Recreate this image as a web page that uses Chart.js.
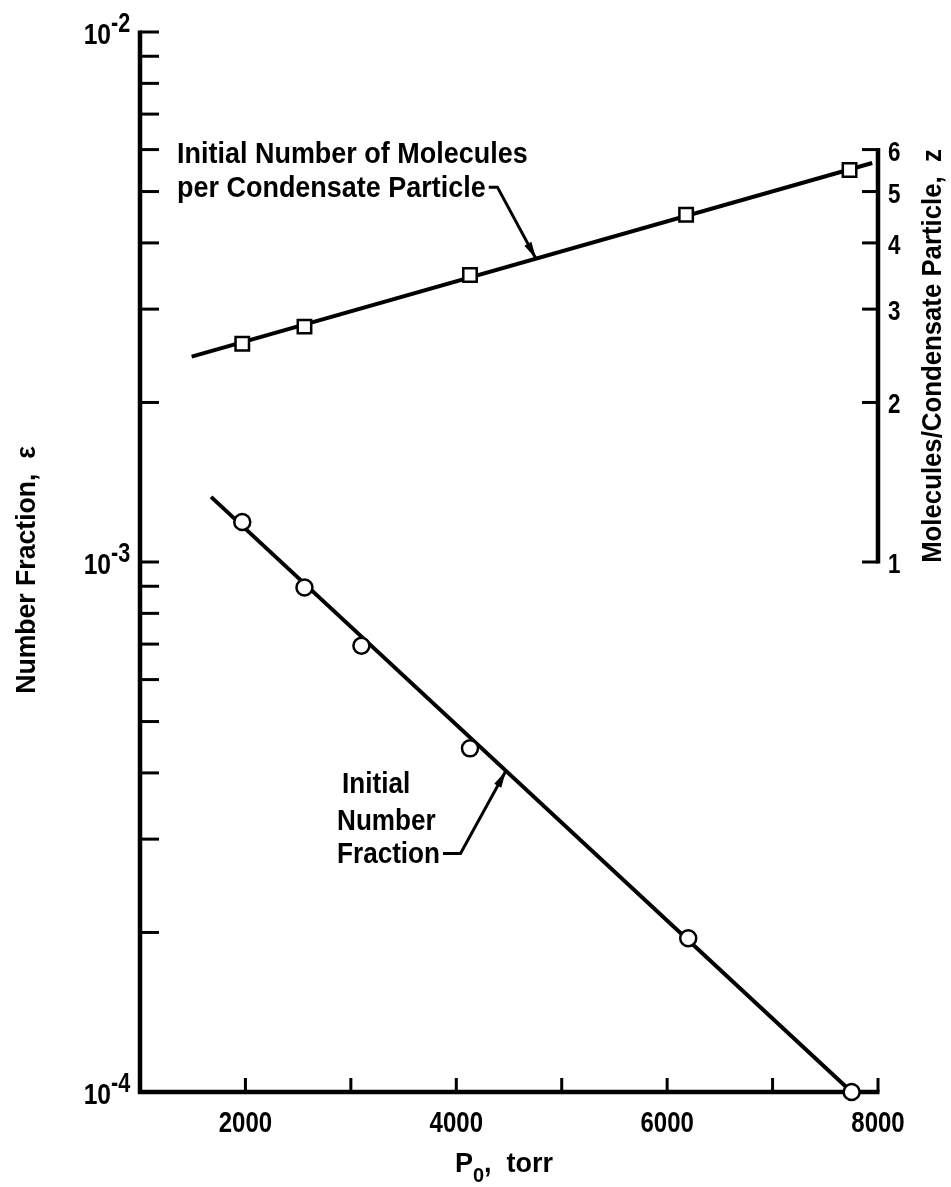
<!DOCTYPE html>
<html><head><meta charset="utf-8">
<script src="https://cdn.jsdelivr.net/npm/chart.js@4.4.1/dist/chart.umd.min.js"></script>
<style>html,body{margin:0;padding:0;background:#fff;}#wrap{width:951px;height:1187px;}</style>
</head><body><div id="wrap"><canvas id="c" width="951" height="1187"></canvas></div>
<script>
// ---- data ----
const circlePressure = [1970, 2560, 3100, 4130, 6200, 7750];          // P0, torr
const numberFraction = [1.19e-3, 8.95e-4, 6.95e-4, 4.45e-4, 1.95e-4, 1.0e-4];
const squarePressure = [1970, 2560, 4130, 6180, 7730];
const moleculesPerParticle = [2.58, 2.78, 3.48, 4.52, 5.49];           // z
const fractionFitPressure = [1674, 7750];
const fractionFitValue = [1.327e-3, 1.0e-4];
const moleculesFitPressure = [1490, 7945];
const moleculesFitValue = [2.44, 5.66];
const xTickValues = [2000, 3000, 4000, 5000, 6000, 7000, 8000];
const xTickLabels = ['2000', '', '4000', '', '6000', '', '8000'];
const leftMajorValues = [1e-4, 1e-3, 1e-2];
const leftMajorExponents = ['-4', '-3', '-2'];
const leftMinorValues = [2e-4,3e-4,4e-4,5e-4,6e-4,7e-4,8e-4,9e-4,2e-3,3e-3,4e-3,5e-3,6e-3,7e-3,8e-3,9e-3];
const rightTickValues = [1, 2, 3, 4, 5, 6];
const rightTickLabels = ['1', '2', '3', '4', '5', '6'];

const FAM = "'Liberation Sans', Arial, sans-serif";

// draws real text, optionally narrowed horizontally (along the text direction)
function txt(ctx, s, x, y, size, sx, align, rot, baseline) {
  ctx.save();
  ctx.font = 'bold ' + size + 'px ' + FAM;
  ctx.translate(x, y);
  if (rot) ctx.rotate(rot);
  ctx.scale(sx, 1);
  ctx.textAlign = align || 'left';
  ctx.textBaseline = baseline || 'alphabetic';
  ctx.fillText(s, 0, 0);
  const w = ctx.measureText(s).width * sx;
  ctx.restore();
  return w;
}
function tw(ctx, s, size, sx) {
  ctx.save(); ctx.font = 'bold ' + size + 'px ' + FAM; const w = ctx.measureText(s).width * sx; ctx.restore(); return w;
}

function logInterp(xs, ys, xv) {
  const t = (xv - xs[0]) / (xs[1] - xs[0]);
  return Math.pow(10, Math.log10(ys[0]) + t * (Math.log10(ys[1]) - Math.log10(ys[0])));
}

function arrow(ctx, x0, y0, x1, y1) {
  const ang = Math.atan2(y1 - y0, x1 - x0), L = 17, W = 4;
  ctx.beginPath();
  ctx.moveTo(x1, y1);
  ctx.lineTo(x1 - L * Math.cos(ang) + W * Math.sin(ang), y1 - L * Math.sin(ang) - W * Math.cos(ang));
  ctx.lineTo(x1 - L * Math.cos(ang) - W * Math.sin(ang), y1 - L * Math.sin(ang) + W * Math.cos(ang));
  ctx.closePath(); ctx.fill();
}

const axesPlugin = {
  id: 'axes',
  beforeDatasetsDraw(chart) {
    const { ctx, chartArea: a, scales: { x, y, y2 } } = chart;
    ctx.save();
    ctx.strokeStyle = '#000'; ctx.fillStyle = '#000';
    // left axis
    ctx.lineWidth = 4.5;
    ctx.beginPath(); ctx.moveTo(a.left, y.getPixelForValue(1e-2) - 1.5); ctx.lineTo(a.left, a.bottom + 2); ctx.stroke();
    ctx.lineWidth = 3;
    [...leftMajorValues, ...leftMinorValues].forEach(v => {
      const py = y.getPixelForValue(v);
      ctx.beginPath(); ctx.moveTo(a.left, py); ctx.lineTo(a.left + 19, py); ctx.stroke();
    });
    // bottom axis
    const xEnd = x.getPixelForValue(8000);
    ctx.lineWidth = 4.5;
    ctx.beginPath(); ctx.moveTo(a.left - 2, a.bottom); ctx.lineTo(xEnd + 1.5, a.bottom); ctx.stroke();
    ctx.lineWidth = 3;
    xTickValues.forEach(v => {
      const px = x.getPixelForValue(v);
      ctx.beginPath(); ctx.moveTo(px, a.bottom); ctx.lineTo(px, a.bottom - 14); ctx.stroke();
    });
    // right axis bracket (z from 1 to 6)
    ctx.lineWidth = 4.5;
    ctx.beginPath(); ctx.moveTo(xEnd, y2.getPixelForValue(6) - 1.5); ctx.lineTo(xEnd, y2.getPixelForValue(1) + 1.5); ctx.stroke();
    ctx.lineWidth = 3;
    rightTickValues.forEach(v => {
      const py = y2.getPixelForValue(v);
      ctx.beginPath(); ctx.moveTo(xEnd, py); ctx.lineTo(xEnd - 16, py); ctx.stroke();
    });
    ctx.restore();
  },
  afterDraw(chart) {
    const { ctx, chartArea: a, scales: { x, y, y2 } } = chart;
    ctx.save();
    ctx.fillStyle = '#000'; ctx.strokeStyle = '#000';
    // x tick labels
    xTickValues.forEach((v, i) => {
      if (xTickLabels[i]) txt(ctx, xTickLabels[i], x.getPixelForValue(v), a.bottom + 40, 30, 0.8, 'center');
    });
    // left tick labels 10^n
    leftMajorValues.forEach((v, i) => {
      const py = y.getPixelForValue(v);
      txt(ctx, '10', 111, py + 12, 30, 0.82, 'right');
      txt(ctx, leftMajorExponents[i], 111, py - 0.5, 27, 0.8, 'left');
    });
    // right tick labels
    rightTickValues.forEach((v, i) => {
      txt(ctx, rightTickLabels[i], 888, y2.getPixelForValue(v) + 11, 28, 0.8, 'left');
    });
    // axis titles (rotated, reading upward)
    txt(ctx, 'Number Fraction,  \u03b5', 27, 570, 28, 0.95, 'center', -Math.PI / 2, 'middle');
    txt(ctx, 'Molecules/Condensate Particle,  z', 933, 356, 28, 0.92, 'center', -Math.PI / 2, 'middle');
    // x title P0, torr
    const wP = tw(ctx, 'P', 27, 1), w0 = tw(ctx, '0', 20, 1), wC = tw(ctx, ',', 27, 1), wT = tw(ctx, '  torr', 27, 1);
    let tx = 504 - (wP + w0 + wC + wT) / 2; const by = 1172;
    tx += txt(ctx, 'P', tx, by, 27, 1);
    tx += txt(ctx, '0', tx, by + 10, 20, 1);
    tx += txt(ctx, ',', tx, by, 27, 1);
    txt(ctx, '  torr', tx, by, 27, 1);

    // annotation: molecules per particle
    const ux = x.getPixelForValue(1351);
    txt(ctx, 'Initial Number of Molecules', ux, y.getPixelForValue(5.66e-3), 29, 0.93);
    const l2y = y.getPixelForValue(4.88e-3);
    const l2w = txt(ctx, 'per Condensate Particle', ux, l2y, 29, 0.93);
    const tipX1 = x.getPixelForValue(4756);
    const tipY1 = y2.getPixelForValue(logInterp(moleculesFitPressure, moleculesFitValue, 4756));
    ctx.lineWidth = 3;
    const s1x = ux + l2w + 3, s1y = l2y - 10, k1x = x.getPixelForValue(4390);
    ctx.beginPath(); ctx.moveTo(s1x, s1y); ctx.lineTo(k1x, s1y); ctx.lineTo(tipX1, tipY1); ctx.stroke();
    arrow(ctx, k1x, s1y, tipX1, tipY1);

    // annotation: initial number fraction
    const lx = x.getPixelForValue(2869);
    txt(ctx, 'Initial', lx + 5, y.getPixelForValue(3.66e-4), 29, 0.9);
    txt(ctx, 'Number', lx, y.getPixelForValue(3.12e-4), 29, 0.9);
    const l3y = y.getPixelForValue(2.70e-4);
    const l3w = txt(ctx, 'Fraction', lx, l3y, 29, 0.9);
    const tipX2 = x.getPixelForValue(4471);
    const tipY2 = y.getPixelForValue(logInterp(fractionFitPressure, fractionFitValue, 4471));
    const s2x = lx + l3w + 3, s2y = l3y - 10, k2x = x.getPixelForValue(4040);
    ctx.beginPath(); ctx.moveTo(s2x, s2y); ctx.lineTo(k2x, s2y); ctx.lineTo(tipX2, tipY2); ctx.stroke();
    arrow(ctx, k2x, s2y, tipX2, tipY2);
    ctx.restore();
  }
};

const pts = (xs, ys) => xs.map((v, i) => ({ x: v, y: ys[i] }));

new Chart(document.getElementById('c'), {
  type: 'line',
  data: {
    datasets: [
      { data: pts(fractionFitPressure, fractionFitValue), yAxisID: 'y', borderColor: '#000', borderWidth: 4, pointRadius: 0, clip: false, order: 3 },
      { data: pts(moleculesFitPressure, moleculesFitValue), yAxisID: 'y2', borderColor: '#000', borderWidth: 4, pointRadius: 0, clip: false, order: 3 },
      { data: pts(circlePressure, numberFraction), yAxisID: 'y', showLine: false, pointStyle: 'circle', pointRadius: 8,
        pointBackgroundColor: '#fff', pointBorderColor: '#000', pointBorderWidth: 2.5, clip: false, order: 1 },
      { data: pts(squarePressure, moleculesPerParticle), yAxisID: 'y2', showLine: false, pointStyle: 'rect', pointRadius: 9.5,
        pointBackgroundColor: '#fff', pointBorderColor: '#000', pointBorderWidth: 2.5, clip: false, order: 1 }
    ]
  },
  options: {
    responsive: false, animation: false, events: [],
    layout: { padding: { top: 32, left: 0, right: 0, bottom: 0 } },
    plugins: { legend: { display: false }, tooltip: { enabled: false } },
    scales: {
      x: { type: 'linear', min: 1000, max: 8000, grid: { display: false }, border: { display: false }, ticks: { display: false },
           afterFit(s) { s.height = 95; } },
      y: { type: 'logarithmic', position: 'left', min: 1e-4, max: 1e-2, grid: { display: false }, border: { display: false },
           ticks: { display: false }, afterFit(s) { s.width = 140; } },
      y2: { type: 'logarithmic', position: 'right', min: 0.1, max: 10, grid: { display: false }, border: { display: false },
            ticks: { display: false }, afterFit(s) { s.width = 73; } }
    }
  },
  plugins: [axesPlugin]
});
</script></body></html>
